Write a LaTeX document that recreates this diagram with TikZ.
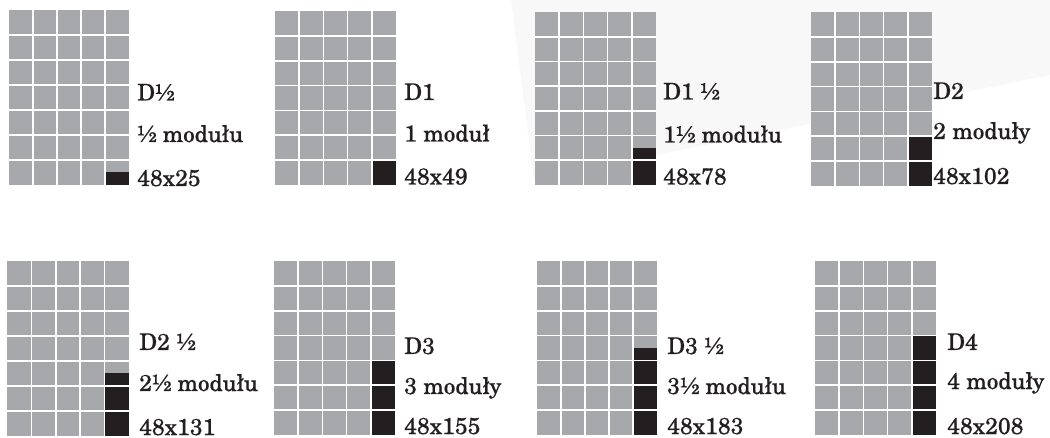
\documentclass[tikz,border=0pt]{standalone}
\usepackage{fontspec}
\setmainfont{TeX Gyre Schola}
\newfontfamily\lblfont{TeX Gyre Schola}[FakeBold=0.5]
\definecolor{gridgrey}{HTML}{A7A8AB}
\definecolor{modblack}{HTML}{231F20}
\definecolor{sheet}{HTML}{F8F8F8}
\tikzset{
  lbl/.style={anchor=base west, inner sep=0pt, text=modblack, font=\lblfont\fontsize{23}{25}\selectfont},
  gridline/.style={draw=white, line width=1.6pt},
}
% #1 left, #2 top, #3 right, #4 bottom, #5 number of half modules
\newcommand\modgrid[5]{%
  \pgfmathsetmacro\pw{(#3-#1)/5}%
  \pgfmathsetmacro\ph{(#4-#2)/7}%
  \fill[gridgrey] (#1,#2) rectangle (#3,#4);
  \pgfmathtruncatemacro\full{floor(#5/2)}%
  \pgfmathtruncatemacro\half{#5-2*\full}%
  \ifnum\full>0
    \fill[modblack] ({#1+4*\pw},{#4-\full*\ph}) rectangle (#3,#4);
  \fi
  \ifnum\half>0
    \fill[modblack] ({#1+4*\pw},{#4-\full*\ph-0.5*\ph}) rectangle (#3,{#4-\full*\ph});
  \fi
  \foreach \c in {1,...,4} {\draw[gridline] ({#1+\c*\pw},#2) -- ({#1+\c*\pw},#4);}
  \foreach \r in {1,...,6} {\draw[gridline] (#1,{#2+\r*\ph}) -- (#3,{#2+\r*\ph});}
}
\begin{document}
\begin{tikzpicture}[x=1pt,y=-1pt]
\useasboundingbox (0,0) rectangle (1050,438);
\fill[sheet] (511,0) -- (534,180) -- (1050,75) -- (1050,0) -- cycle;
% top row
\modgrid{9}{10}{129}{185}{1}
\node[lbl] (p1a) at (137,100.5) {D½};
\node[lbl] (p1b) at (137,142) {½ modułu};
\node[lbl] (p1c) at (137,186) {48x25};
\modgrid{275}{11}{396}{185}{2}
\node[lbl] (p2a) at (404,100) {D1};
\node[lbl] (p2b) at (404,141.5) {1 moduł};
\node[lbl] (p2c) at (404,184.5) {48x49};
\modgrid{535}{12}{656}{185}{3}
\node[lbl] (p3a) at (663,99.5) {D1 ½};
\node[lbl] (p3b) at (663,142.5) {1½ modułu};
\node[lbl] (p3c) at (663,184.5) {48x78};
\modgrid{811}{12}{932}{186}{4}
\node[lbl] (p4a) at (933,99) {D2};
\node[lbl] (p4b) at (933,139) {2 moduły};
\node[lbl] (p4c) at (933,184) {48x102};
% bottom row
\modgrid{7}{261}{129}{436}{5}
\node[lbl] (p5a) at (139,350) {D2 ½};
\node[lbl] (p5b) at (139,391) {2½ modułu};
\node[lbl] (p5c) at (139,435) {48x131};
\modgrid{274}{261}{395}{435}{6}
\node[lbl] (p6a) at (404,354) {D3};
\node[lbl] (p6b) at (404,394) {3 moduły};
\node[lbl] (p6c) at (404,434) {48x155};
\modgrid{537}{261}{657}{435}{7}
\node[lbl] (p7a) at (667,354) {D3 ½};
\node[lbl] (p7b) at (667,394) {3½ modułu};
\node[lbl] (p7c) at (667,434) {48x183};
\modgrid{815}{261}{936}{435}{8}
\node[lbl] (p8a) at (947,350) {D4};
\node[lbl] (p8b) at (947,389) {4 moduły};
\node[lbl] (p8c) at (947,434) {48x208};
\end{tikzpicture}
\end{document}
